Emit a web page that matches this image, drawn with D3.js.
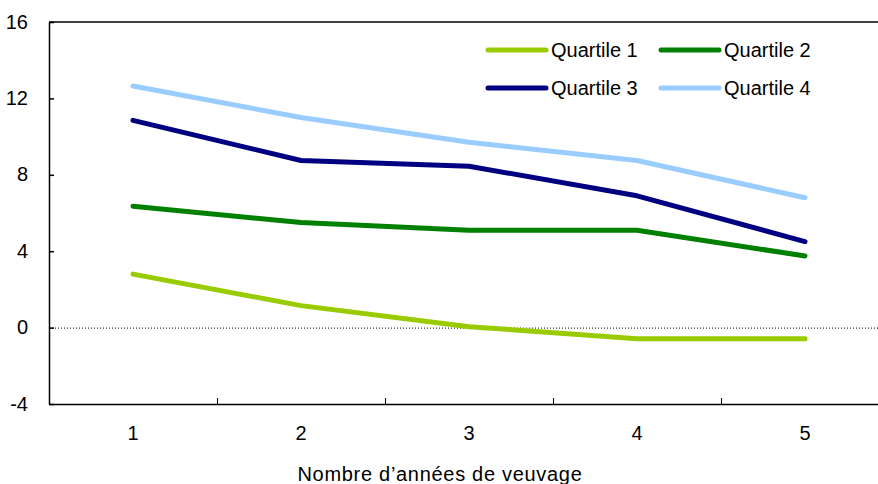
<!DOCTYPE html>
<html>
<head>
<meta charset="utf-8">
<script src="https://cdn.jsdelivr.net/npm/d3@7"></script>
<style>
  body { margin: 0; background: #fff; }
  svg { display: block; font-family: 'Liberation Sans', Arial, sans-serif; }
</style>
</head>
<body>
<div id="chart"></div>
<script>
// Data
const years = ['1', '2', '3', '4', '5']
const quartile1 = [2.8, 1.15, 0.05, -0.58, -0.58]
const quartile2 = [6.35, 5.5, 5.1, 5.1, 3.75]
const quartile3 = [10.85, 8.75, 8.45, 6.9, 4.5]
const quartile4 = [12.65, 11.0, 9.7, 8.75, 6.8]
const seriesNames = ['Quartile 1', 'Quartile 2', 'Quartile 3', 'Quartile 4']
const yTicks = [-4, 0, 4, 8, 12, 16]
const xTitle = 'Nombre d\u2019années de veuvage'

const colours = ['#99cc00', '#008000', '#000080', '#99ccff']
const series = [quartile1, quartile2, quartile3, quartile4]

const width = 878
const height = 484
const margin = {left: 49, top: 22, right: -11, bottom: 80}
const fontSize = 20

const svg = d3.select('#chart')
  .append('svg')
  .attr('width', width)
  .attr('height', height)

const x = d3.scaleBand()
  .domain(years)
  .range([margin.left, width - margin.right])
  .padding(0)

const y = d3.scaleLinear()
  .domain([-4, 16])
  .range([height - margin.bottom, margin.top])

// Zero line (dotted)
svg.append('line')
  .attr('x1', x.range()[0])
  .attr('x2', x.range()[1])
  .attr('y1', y(0) + 0.5)
  .attr('y2', y(0) + 0.5)
  .style('stroke', '#000')
  .style('stroke-width', 1)
  .style('stroke-dasharray', '1,2')

// Top frame line
svg.append('line')
  .attr('x1', x.range()[0])
  .attr('x2', x.range()[1])
  .attr('y1', y(16))
  .attr('y2', y(16))
  .style('stroke', '#000')
  .style('stroke-width', 1.5)

// Left axis
const gLeft = svg.append('g')
  .attr('transform', `translate(${margin.left},0)`)
  .call(d3.axisLeft(y)
    .tickValues(yTicks)
    .tickFormat(d => String(d))
    .tickSize(-5)
    .tickPadding(21)
    .tickSizeOuter(0))
gLeft.select('.domain').style('stroke-width', 1.5)
gLeft.selectAll('.tick line').style('stroke-width', 1.5)
gLeft.selectAll('text')
  .style('font-size', fontSize + 'px')
  .style('fill', '#000')
  .attr('dy', '0.3em')

// Bottom axis: labels centred in bands, ticks on band boundaries
const gBottom = svg.append('g')
  .attr('transform', `translate(0,${y(-4)})`)
  .call(d3.axisBottom(x).tickSize(0).tickPadding(22).tickSizeOuter(0))
gBottom.select('.domain').style('stroke-width', 1.5)
gBottom.selectAll('text')
  .style('font-size', fontSize + 'px')
  .style('fill', '#000')

const boundaries = years.slice(1).map(d => x(d))
gBottom.selectAll('.boundary')
  .data(boundaries)
  .join('line')
  .attr('class', 'boundary')
  .attr('x1', d => d + 0.5)
  .attr('x2', d => d + 0.5)
  .attr('y1', 0)
  .attr('y2', -6)
  .style('stroke', '#000')
  .style('stroke-width', 1)

// Axis title
svg.append('text')
  .attr('x', width / 2 + 1)
  .attr('y', 481)
  .style('text-anchor', 'middle')
  .style('font-size', fontSize + 'px')
  .style('letter-spacing', '0.7px')
  .text(xTitle)

// Lines
const line = d3.line()
  .x((d, i) => x(years[i]) + x.bandwidth() / 2)
  .y(d => y(d))

svg.selectAll('.series')
  .data(series)
  .join('path')
  .attr('class', 'series')
  .attr('d', d => line(d))
  .style('fill', 'none')
  .style('stroke', (d, i) => colours[i])
  .style('stroke-width', 5)
  .style('stroke-linecap', 'round')
  .style('stroke-linejoin', 'round')

// Legend
const legendPos = [
  {x: 488, y: 50}, {x: 661, y: 50},
  {x: 488, y: 88}, {x: 661, y: 88}
]
const gLegend = svg.append('g')
const items = gLegend.selectAll('g')
  .data(seriesNames)
  .join('g')
  .attr('transform', (d, i) => `translate(${legendPos[i].x},${legendPos[i].y})`)
items.append('line')
  .attr('x1', 0)
  .attr('x2', 58)
  .style('stroke', (d, i) => colours[i])
  .style('stroke-width', 5)
  .style('stroke-linecap', 'round')
items.append('text')
  .attr('x', 63)
  .attr('dy', '0.35em')
  .style('font-size', fontSize + 'px')
  .text(d => d)
</script>
</body>
</html>
